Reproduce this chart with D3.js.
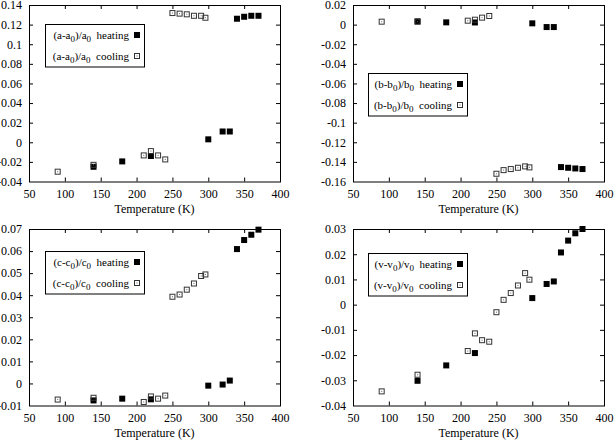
<!DOCTYPE html>
<html><head><meta charset="utf-8">
<script src="https://cdn.jsdelivr.net/npm/d3@7"></script>
<style>
html,body{margin:0;padding:0;background:#fff;}
</style></head>
<body><svg id="c" width="614" height="440"></svg>
<script>
// Temperatures (K)
const heatT = [140, 180, 220, 300, 320, 330, 340, 350, 360, 370];
const coolT = [90, 140, 210, 220, 230, 240, 250, 260, 270, 280, 290, 296];

// (a-a0)/a0
const aHeat = [-0.025, -0.0195, -0.014, 0.003, 0.011, 0.011, 0.126, 0.128, 0.129, 0.129];
const aCool = [-0.030, -0.023, -0.0134, -0.009, -0.0134, -0.0175, 0.1318, 0.1312, 0.1305, 0.129, 0.129, 0.127];
// (b-b0)/b0
const bHeat = [0.0033, 0.0023, 0.0022, 0.0013, -0.0025, -0.0025, -0.1453, -0.146, -0.1467, -0.1473];
const bCool = [0.003, 0.003, 0.004, 0.005, 0.0071, 0.0088, -0.1521, -0.1484, -0.1473, -0.146, -0.1446, -0.1456];
// (c-c0)/c0
const cHeat = [-0.0077, -0.0069, -0.0072, -0.001, -0.0005, 0.0013, 0.0609, 0.065, 0.0674, 0.0697];
const cCool = [-0.0073, -0.0065, -0.0084, -0.0059, -0.0069, -0.0055, 0.0393, 0.0403, 0.0425, 0.0453, 0.0487, 0.0494];
// (v-v0)/v0
const vHeat = [-0.0302, -0.0241, -0.0192, 0.0026, 0.0082, 0.0092, 0.0207, 0.0254, 0.0283, 0.030];
const vCool = [-0.0344, -0.0278, -0.0184, -0.0114, -0.0141, -0.0147, -0.003, 0.0019, 0.0046, 0.0076, 0.0125, 0.0099];

const xTicks = [50, 100, 150, 200, 250, 300, 350, 400];
const aTicks = [-0.04, -0.02, 0, 0.02, 0.04, 0.06, 0.08, 0.1, 0.12, 0.14];
const bTicks = [-0.16, -0.14, -0.12, -0.1, -0.08, -0.06, -0.04, -0.02, 0, 0.02];
const cTicks = [-0.01, 0, 0.01, 0.02, 0.03, 0.04, 0.05, 0.06, 0.07];
const vTicks = [-0.04, -0.03, -0.02, -0.01, 0, 0.01, 0.02, 0.03];

const xTitle = "Temperature (K)";

const panels = [
  {v:"a", heat:aHeat, cool:aCool, ticks:aTicks, dom:[-0.04,0.14], x:29, y:5, lg:[16,19]},
  {v:"b", heat:bHeat, cool:bCool, ticks:bTicks, dom:[-0.16,0.02], x:353, y:5, lg:[15,68]},
  {v:"c", heat:cHeat, cool:cCool, ticks:cTicks, dom:[-0.01,0.07], x:29, y:229, lg:[16,22]},
  {v:"v", heat:vHeat, cool:vCool, ticks:vTicks, dom:[-0.04,0.03], x:353, y:229, lg:[15,24]}
];
const W = 251, H = 176.5, TL = 4, MS = 6;
const FONT = "Liberation Serif";

const svg = d3.select("#c");
const fmt = v => String(+v.toFixed(4));

function label(sel, v, k) {
  sel.append("tspan").text("(" + v + "-" + v);
  sel.append("tspan").attr("dy", 3).style("font-size", "9px").text("0");
  sel.append("tspan").attr("dy", -3).text(")/" + v);
  sel.append("tspan").attr("dy", 3).style("font-size", "9px").text("0");
  sel.append("tspan").attr("dy", -3).text(k);
}

panels.forEach(p => {
  const g = svg.append("g").attr("transform", `translate(${p.x},${p.y})`);
  const x = d3.scaleLinear().domain([50, 400]).range([0, W]);
  const y = d3.scaleLinear().domain(p.dom).range([H, 0]);

  const xb = g.append("g").attr("transform", `translate(0,${H})`)
    .call(d3.axisBottom(x).tickValues(xTicks).tickSize(-TL).tickPadding(7.5).tickFormat(d3.format("d")));
  const xt = g.append("g").call(d3.axisTop(x).tickValues(xTicks).tickSize(-TL).tickFormat(""));
  const yl = g.append("g").call(d3.axisLeft(y).tickValues(p.ticks).tickSize(-TL).tickPadding(7).tickFormat(fmt));
  const yr = g.append("g").attr("transform", `translate(${W},0)`)
    .call(d3.axisRight(y).tickValues(p.ticks).tickSize(-TL).tickFormat(""));
  [xb, xt, yl, yr].forEach(a => {
    a.attr("font-family", null).attr("font-size", null);
    a.select(".domain").remove();
    a.selectAll("line").attr("stroke", "#000").attr("stroke-width", 1);
    a.selectAll("text").attr("fill", "#000").style("font-family", FONT).style("font-size", "12px");
    a.selectAll(".tick").filter((d,i,n)=> i===0 || i===n.length-1).select("line").remove();
  });

  g.append("rect").attr("x", 0.5).attr("y", 0.5).attr("width", W).attr("height", H)
    .attr("fill", "none").attr("stroke", "#000").attr("stroke-width", 1);

  g.append("text").attr("x", W / 2).attr("y", H + 31).attr("text-anchor", "middle")
    .style("font-family", FONT).style("font-size", "12px").text(xTitle);

  g.append("g").selectAll("rect").data(heatT.map((t,i)=>[t,p.heat[i]])).join("rect")
    .attr("x", d => x(d[0]) - MS/2).attr("y", d => y(d[1]) - MS/2)
    .attr("width", MS).attr("height", MS).attr("fill", "#000");
  const cg = g.append("g").selectAll("g").data(coolT.map((t,i)=>[t,p.cool[i]])).join("g")
    .attr("transform", d => `translate(${x(d[0])},${y(d[1])})`);
  cg.append("rect").attr("x", -MS/2 + 0.5).attr("y", -MS/2 + 0.5).attr("width", MS - 1).attr("height", MS - 1)
    .attr("fill", "none").attr("stroke", "#333").attr("stroke-width", 1);
  cg.append("rect").attr("x", -0.5).attr("y", -0.5).attr("width", 1).attr("height", 1).attr("fill", "#666");

  const lg = g.append("g").attr("transform", `translate(${p.lg[0]},${p.lg[1]})`);
  lg.append("rect").attr("x", 0.5).attr("y", 0.5).attr("width", 99).attr("height", 42.5)
    .attr("fill", "#fff").attr("stroke", "#000").attr("stroke-width", 1);
  [["\u00a0\u00a0heating", 11], ["\u00a0\u00a0cooling", 32]].forEach(([k, cy], i) => {
    const t = lg.append("text").attr("x", 84).attr("y", cy + 4).attr("text-anchor", "end")
      .style("font-family", FONT).style("font-size", "11px");
    label(t, p.v, k);
    if (i === 0) {
      lg.append("rect").attr("x", 92 - MS/2).attr("y", cy - MS/2).attr("width", MS).attr("height", MS).attr("fill", "#000");
    } else {
      lg.append("rect").attr("x", 92 - MS/2 + 0.5).attr("y", cy - MS/2 + 0.5).attr("width", MS - 1).attr("height", MS - 1)
        .attr("fill", "none").attr("stroke", "#333");
      lg.append("rect").attr("x", 91.5).attr("y", cy - 0.5).attr("width", 1).attr("height", 1).attr("fill", "#666");
    }
  });
});
</script></body></html>
